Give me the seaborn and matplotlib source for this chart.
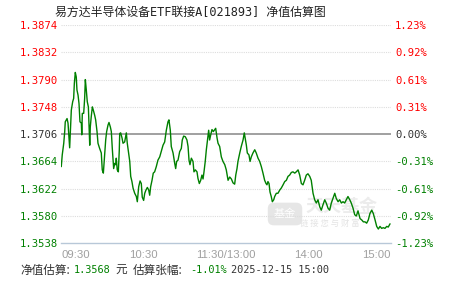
import matplotlib
matplotlib.use("Agg")
import matplotlib.pyplot as plt
import seaborn as sns
import pandas as pd

# ---- data ----
minutes = [0.2, 0.9, 2.0, 2.7, 3.1, 4.4, 5.1, 5.8, 6.3, 6.8, 7.5, 8.5, 9.2, 9.7, 10.4, 11.1, 11.6, 12.4, 13.1, 13.8,
           14.8, 15.1, 15.5, 16.5, 17.2, 17.7, 18.4, 19.1, 19.9, 20.4, 20.9, 21.3, 22.0, 22.8, 23.5, 24.5, 25.2, 26.2,
           26.9, 28.1, 29.3, 30.0, 30.8, 31.8, 32.5, 33.2, 34.2, 34.9, 35.9, 36.6, 37.3, 38.3, 39.1, 39.8, 40.2, 40.9,
           41.7, 42.4, 42.7, 43.4, 44.4, 45.1, 46.3, 47.5, 48.2, 49.2, 50.0, 50.7, 51.6, 52.4, 53.6, 54.8, 55.5, 56.5,
           57.5, 58.4, 59.1, 60.1, 60.9, 61.8, 62.8, 63.8, 64.5, 65.2, 66.2, 67.1, 68.1, 69.3, 70.5, 71.8, 72.9, 74.2,
           75.4, 76.6, 77.8, 78.5, 79.5, 80.2, 81.5, 82.7, 83.4, 84.1, 85.1, 86.3, 87.5, 88.2, 89.2, 90.4, 91.6, 92.4,
           93.1, 93.8, 94.8, 96.0, 96.7, 97.7, 98.9, 99.6, 100.6, 101.6, 102.5, 103.3, 104.0, 104.9, 105.7, 106.4,
           107.4, 108.1, 108.9, 109.8, 110.8, 111.8, 112.5, 113.5, 114.2, 115.4, 116.6, 117.8, 119.1, 120.2, 121.5,
           122.7, 123.9, 125.1, 126.3, 127.1, 128.0, 128.7, 130.0, 131.1, 132.4, 133.3, 134.8, 135.5, 136.7, 137.5,
           138.4, 139.6, 140.9, 142.0, 143.3, 144.5, 145.7, 146.9, 148.1, 149.1, 149.8, 150.5, 151.3, 152.0, 152.9,
           153.7, 154.7, 155.4, 156.6, 157.8, 159.1, 160.2, 161.5, 162.7, 163.9, 165.1, 166.3, 167.5, 168.7, 170.0,
           171.1, 172.4, 173.6, 174.8, 176.0, 177.2, 178.4, 179.6, 180.9, 182.0, 183.3, 184.5, 185.7, 186.9, 188.2,
           189.3, 190.5, 191.8, 192.9, 194.2, 195.4, 196.6, 197.8, 199.1, 200.2, 201.5, 202.7, 203.9, 205.1, 206.3,
           207.5, 208.7, 210.0, 211.1, 212.4, 213.6, 214.8, 216.0, 217.5, 218.7, 219.9, 221.1, 222.3, 223.5, 224.7,
           226.0, 227.1, 228.4, 229.6, 230.8, 232.0, 233.2, 234.4, 235.6, 236.9, 238.0, 239.3]
nav = [1.3656, 1.3674, 1.3692, 1.3710, 1.3725, 1.3730, 1.3723, 1.3702, 1.3685, 1.3710, 1.3743, 1.3756, 1.3761, 1.3784,
       1.3801, 1.3794, 1.3774, 1.3766, 1.3753, 1.3725, 1.3723, 1.3705, 1.3738, 1.3738, 1.3761, 1.3790, 1.3774, 1.3756,
       1.3748, 1.3720, 1.3689, 1.3717, 1.3733, 1.3748, 1.3743, 1.3735, 1.3728, 1.3710, 1.3692, 1.3684, 1.3677, 1.3651,
       1.3646, 1.3677, 1.3697, 1.3710, 1.3720, 1.3724, 1.3717, 1.3710, 1.3684, 1.3653, 1.3661, 1.3659, 1.3669, 1.3651,
       1.3648, 1.3682, 1.3707, 1.3708, 1.3700, 1.3692, 1.3694, 1.3708, 1.3692, 1.3677, 1.3664, 1.3641, 1.3633, 1.3623,
       1.3615, 1.3610, 1.3602, 1.3625, 1.3634, 1.3630, 1.3609, 1.3604, 1.3615, 1.3620, 1.3624, 1.3620, 1.3612, 1.3625,
       1.3635, 1.3646, 1.3648, 1.3656, 1.3666, 1.3671, 1.3679, 1.3689, 1.3694, 1.3712, 1.3725, 1.3728, 1.3712, 1.3687,
       1.3677, 1.3661, 1.3653, 1.3664, 1.3666, 1.3679, 1.3684, 1.3697, 1.3703, 1.3702, 1.3697, 1.3687, 1.3666, 1.3659,
       1.3669, 1.3664, 1.3648, 1.3651, 1.3648, 1.3638, 1.3630, 1.3635, 1.3643, 1.3637, 1.3648, 1.3664, 1.3682, 1.3694,
       1.3712, 1.3697, 1.3705, 1.3713, 1.3710, 1.3713, 1.3715, 1.3700, 1.3692, 1.3687, 1.3671, 1.3664, 1.3659, 1.3651,
       1.3635, 1.3640, 1.3637, 1.3631, 1.3629, 1.3643, 1.3653, 1.3664, 1.3677, 1.3687, 1.3697, 1.3708, 1.3689, 1.3677,
       1.3674, 1.3664, 1.3671, 1.3677, 1.3682, 1.3677, 1.3669, 1.3664, 1.3656, 1.3646, 1.3635, 1.3630, 1.3628, 1.3633,
       1.3630, 1.3617, 1.3610, 1.3602, 1.3605, 1.3610, 1.3615, 1.3615, 1.3620, 1.3623, 1.3628, 1.3633, 1.3635, 1.3641,
       1.3643, 1.3647, 1.3648, 1.3646, 1.3648, 1.3651, 1.3643, 1.3630, 1.3628, 1.3635, 1.3643, 1.3645, 1.3641, 1.3635,
       1.3615, 1.3605, 1.3600, 1.3605, 1.3594, 1.3589, 1.3597, 1.3605, 1.3600, 1.3592, 1.3589, 1.3600, 1.3607, 1.3615,
       1.3607, 1.3602, 1.3605, 1.3600, 1.3602, 1.3600, 1.3605, 1.3610, 1.3605, 1.3600, 1.3592, 1.3582, 1.3580, 1.3588,
       1.3576, 1.3574, 1.3571, 1.3571, 1.3569, 1.3574, 1.3584, 1.3589, 1.3584, 1.3574, 1.3564, 1.3560, 1.3564, 1.3561,
       1.3562, 1.3561, 1.3564, 1.3563, 1.3568]

nav_ticks = [1.3538, 1.3580, 1.3622, 1.3664, 1.3706, 1.3748, 1.3790, 1.3832, 1.3874]
nav_tick_labels = ["1.3538", "1.3580", "1.3622", "1.3664", "1.3706", "1.3748", "1.3790", "1.3832", "1.3874"]
pct_tick_labels = ["-1.23%", "-0.92%", "-0.61%", "-0.31%", "0.00%", "0.31%", "0.61%", "0.92%", "1.23%"]
base_nav = 1.3706
time_ticks = [0, 30, 60, 90, 120, 150, 180, 210, 240]
time_labels = ["09:30", "", "10:30", "", "11:30/13:00", "", "14:00", "", "15:00"]

title = "易方达半导体设备ETF联接A[021893] 净值估算图"
est_nav = "1.3568"
est_chg = "-1.01%"
stamp = "2025-12-15 15:00"

# ---- style ----
sns.set_style("white")
MONO_CJK = ["DejaVu Sans Mono", "Noto Sans CJK SC"]
CJK = ["Noto Sans CJK SC", "DejaVu Sans"]
plt.rcParams["font.family"] = MONO_CJK

RED, GREEN, DARK = "#ff0000", "#008000", "#333333"
W, H = 451, 281
fig = plt.figure(figsize=(W / 100, H / 100), dpi=100)

# watermark (drawn beneath the axes)
fig.text(285 / W, 1 - 214 / H, "基金", fontsize=8, color="#ffffff", ha="center", va="center",
         family="Noto Sans CJK SC",
         bbox=dict(boxstyle="round,pad=0.55", fc="#e6e6e6", ec="none"), zorder=0)
fig.text(342 / W, 1 - 206 / H, "天天基金", fontsize=13, color="#ececec", ha="center", va="center",
         family="Noto Sans CJK SC", fontweight="bold", zorder=0)
fig.text(330 / W, 1 - 223 / H, "链 接 您 与 财 富", fontsize=6, color="#e4e4e4", ha="center", va="center",
         family="Noto Sans CJK SC", zorder=0)

ax = fig.add_axes([61 / W, 1 - 243.3 / H, 330 / W, (243.3 - 25) / H])
ax.set_zorder(1)
ax.patch.set_alpha(0)

df = pd.DataFrame({"minute": minutes, "nav": nav})
sns.lineplot(data=df, x="minute", y="nav", ax=ax, color=GREEN, lw=1.0, zorder=3)

ax.set_xlim(0, 240)
ax.set_ylim(nav_ticks[0], nav_ticks[-1])
ax.set_xlabel("")
ax.set_ylabel("")

# grid lines
for t in nav_ticks[1:]:
    if abs(t - base_nav) < 1e-9:
        ax.axhline(t, color="#999999", lw=1.3, zorder=2)
    else:
        ax.axhline(t, color="#dddddd", lw=0.8, ls=(0, (1, 1)), zorder=1)

for s in ["top", "right", "left"]:
    ax.spines[s].set_visible(False)
ax.spines["bottom"].set_color("#b8c8d8")
ax.spines["bottom"].set_linewidth(1.0)

def color_for(v):
    if abs(v - base_nav) < 1e-9:
        return DARK
    return RED if v > base_nav else GREEN

ax.set_yticks(nav_ticks)
ax.set_yticklabels(nav_tick_labels)
ax.tick_params(axis="y", length=0, pad=2.5, labelsize=7.6)
for lab, v in zip(ax.get_yticklabels(), nav_ticks):
    lab.set_color(color_for(v))

ax2 = ax.twinx()
ax2.set_ylim(nav_ticks[0], nav_ticks[-1])
ax2.set_yticks(nav_ticks)
ax2.set_yticklabels(pct_tick_labels)
ax2.tick_params(axis="y", length=0, pad=3, labelsize=7.6)
for lab, v in zip(ax2.get_yticklabels(), nav_ticks):
    lab.set_color(color_for(v))
for s in ax2.spines.values():
    s.set_visible(False)
ax2.patch.set_alpha(0)

ax.set_xticks(time_ticks)
ax.set_xticklabels(time_labels, fontfamily="Liberation Sans")
ax.tick_params(axis="x", direction="out", length=3, width=1, color="#b8c8d8",
               labelsize=8.2, labelcolor="#a0a0a0", pad=2)
xl = ax.get_xticklabels()
xl[0].set_ha("left")
xl[-1].set_ha("right")

# title
fig.text(190 / W, 1 - 12 / H, title, fontsize=8.6, color="#222222", ha="center", va="center",
         family=MONO_CJK)

# bottom info line
yb = 1 - 270 / H
parts = [(20, "净值估算:", DARK, CJK, 8.4), (74, est_nav, GREEN, MONO_CJK, 7.4),
         (115, "元", DARK, CJK, 8.4), (133, "估算张幅:", DARK, CJK, 8.4),
         (190, est_chg, GREEN, MONO_CJK, 7.4), (231, stamp, DARK, MONO_CJK, 7.4)]
for x, s, c, fam, fs in parts:
    fig.text(x / W, yb, s, fontsize=fs, color=c, ha="left", va="center", family=fam)

fig.savefig("out.png", dpi=100)
